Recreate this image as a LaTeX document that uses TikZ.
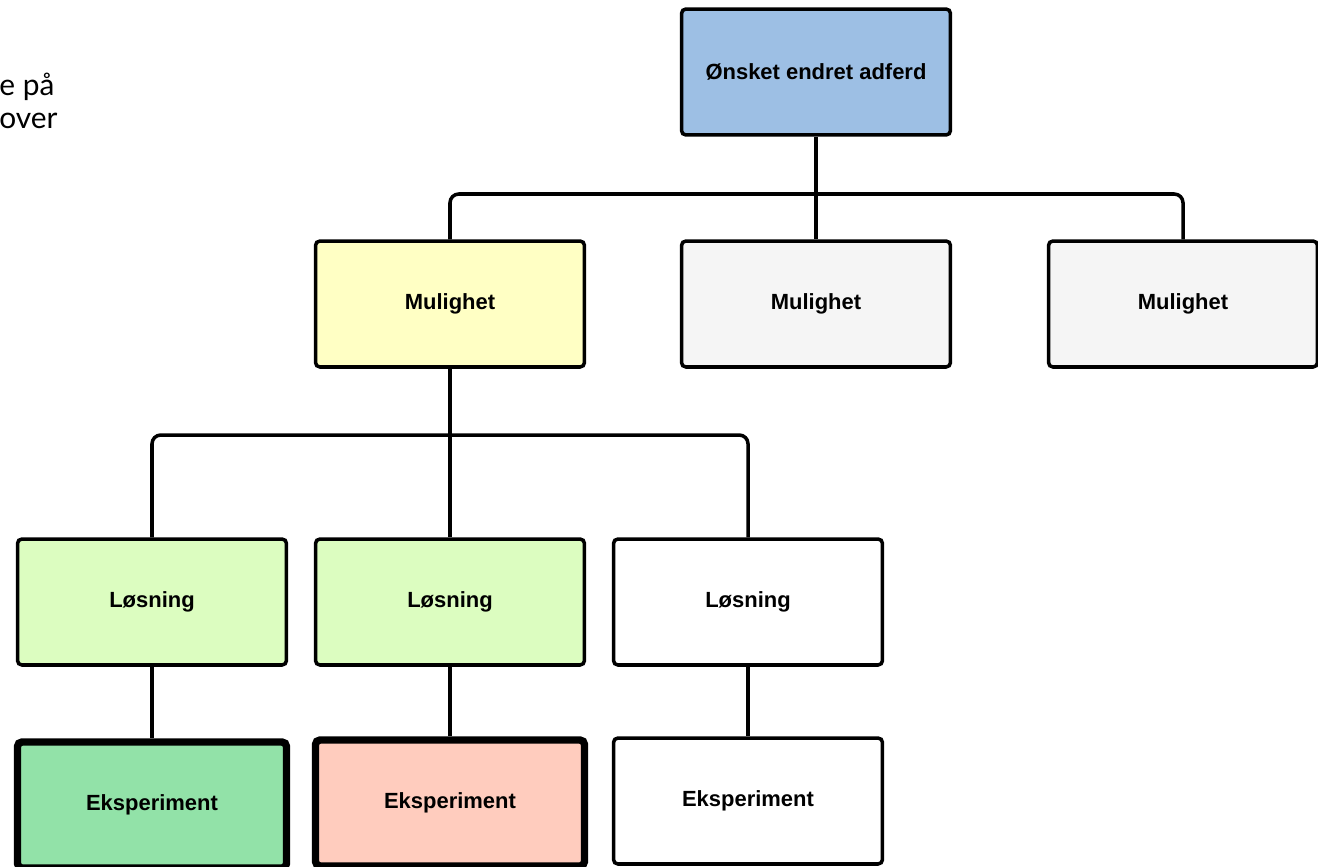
\documentclass[tikz,border=0pt]{standalone}
\usepackage{fontspec}
\setmainfont{Liberation Sans}
\newfontfamily\notefont{Lato}
\usepackage{xcolor}

\definecolor{goalblue}{HTML}{9DBFE4}
\definecolor{pickyellow}{HTML}{FFFFC4}
\definecolor{restgrey}{HTML}{F5F5F5}
\definecolor{solgreen}{HTML}{DCFDC0}
\definecolor{expgreen}{HTML}{92E2A8}
\definecolor{exppink}{HTML}{FFCCBE}

\tikzset{
  box/.style={draw, line width=2pt, rounded corners=2.5pt, minimum width=5.38cm, minimum height=2.52cm, font=\fontsize{12.5}{15}\selectfont\bfseries},
  heavybox/.style={box, line width=4.2pt},
  link/.style={line width=2pt, rounded corners=5pt}
}

\begin{document}
\begin{tikzpicture}[x=0.02cm, y=-0.02cm]
            \clip (0,0) rectangle (1318,866);
            \fill[white] (0,0) rectangle (1318,866);
            \node (note) at (-1,101) [anchor=west, align=left, inner sep=0pt, font=\notefont\fontsize{17}{19}\selectfont] {e på\\over};
            \node (top) at (816,72) [box, fill=goalblue] {Ønsket endret adferd};
            \node (m1) at (450,304) [box, fill=pickyellow] {Mulighet};
            \node (m2) at (816,304) [box, fill=restgrey] {Mulighet};
            \node (m3) at (1183,304) [box, fill=restgrey] {Mulighet};
            \node (l1) at (152,602) [box, fill=solgreen] {Løsning};
            \node (l2) at (450,602) [box, fill=solgreen] {Løsning};
            \node (l3) at (748,602) [box, fill=white] {Løsning};
            \node (e1) at (152,805) [heavybox, fill=expgreen] {Eksperiment};
            \node (e2) at (450,803) [heavybox, fill=exppink] {Eksperiment};
            \node (e3) at (748,801) [box, fill=white] {Eksperiment};
            \coordinate (j1) at (816,194);
            \coordinate (j2) at (450,435);
            \draw[link] (top.south) -- (m2.north);
            \draw[link] (m1.north) |- (j1) -| (m3.north);
            \draw[link] (m1.south) -- (l2.north);
            \draw[link] (l1.north) |- (j2) -| (l3.north);
            \draw[link] (l1.south) -- (e1.north);
            \draw[link] (l2.south) -- (e2.north);
            \draw[link] (l3.south) -- (e3.north);
        \end{tikzpicture}
\end{document}
